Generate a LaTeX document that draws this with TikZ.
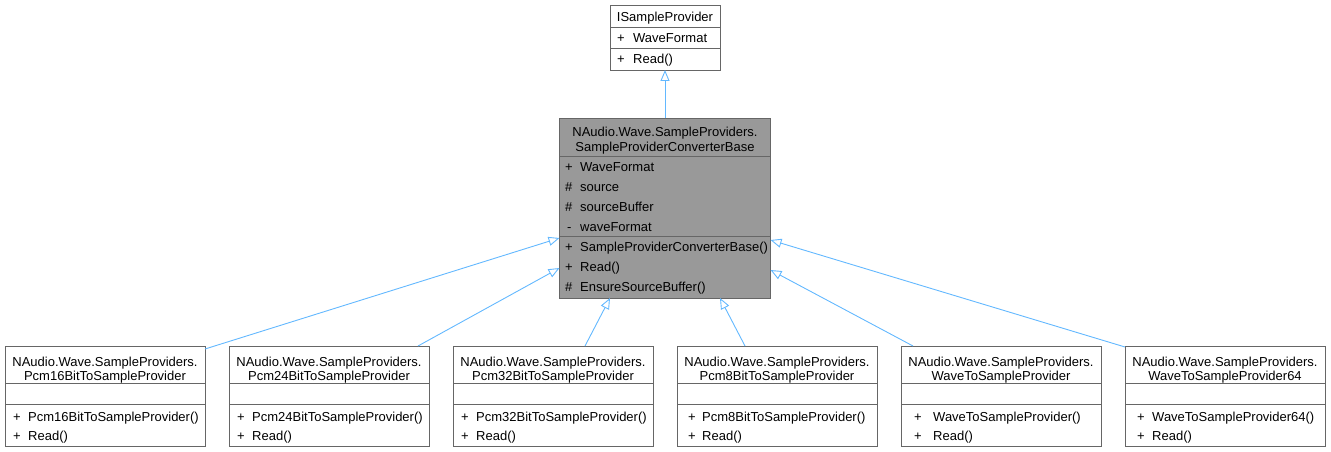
\documentclass[tikz,border=0pt]{standalone}
\usepackage{fontspec}
\setmainfont{Liberation Sans}
\usetikzlibrary{arrows.meta,calc}

\definecolor{edgeblue}{HTML}{63B8FF}
\definecolor{boxgray}{HTML}{666666}
\definecolor{basegray}{HTML}{999999}

\tikzset{
  classbox/.style={draw=boxgray, line width=0.9pt, fill=white, inner sep=0pt,
    outer sep=0pt, anchor=north west},
  basebox/.style={classbox, fill=basegray},
  divider/.style={draw=boxgray, line width=0.9pt},
  txt/.style={anchor=base west, inner sep=0pt, font=\fontsize{13}{15}\selectfont},
  ctxt/.style={anchor=base, inner sep=0pt, font=\fontsize{13}{15}\selectfont},
  inherit/.style={draw=edgeblue, line width=0.9pt,
    -{Triangle[open, length=11pt, width=9pt]}},
}

% one member row: name, symbol x, text x, baseline, symbol, text
\newcommand{\umlrow}[6]{%
  \node[txt] (#1v) at (#2,#4) {#5};
  \node[txt] (#1) at (#3,#4) {#6};}

% a derived class box: name, left x, short class name, symbol x, text x, ctor text x offset
\newcommand{\derived}[5]{%
  \node[classbox, minimum width=200pt, minimum height=100pt] (#1) at (#2,346) {};
  \node[ctxt] (#1ns) at ($(#1.north)+(0,20)$) {NAudio.Wave.SampleProviders.};
  \node[ctxt] (#1cl) at ($(#1.north)+(0,34)$) {#3};
  \draw[divider] ($(#1.north west)+(0,37)$) -- ($(#1.north east)+(0,37)$);
  \draw[divider] ($(#1.north west)+(0,58)$) -- ($(#1.north east)+(0,58)$);
  \umlrow{#1ctor}{#4}{#5}{421}{+}{#3()}
  \umlrow{#1read}{#4}{#5}{440}{+}{Read()}}

\begin{document}
\begin{tikzpicture}[x=1pt, y=-1pt]
\useasboundingbox (0,0) rectangle (1331,452);

% interface
\node[classbox, minimum width=110pt, minimum height=65pt] (iface) at (610,5) {};
\node[ctxt] (ifacet) at (665,21.5) {ISampleProvider};
\draw[divider] ($(iface.north west)+(0,22.5)$) -- ($(iface.north east)+(0,22.5)$);
\draw[divider] ($(iface.north west)+(0,43.5)$) -- ($(iface.north east)+(0,43.5)$);
\umlrow{ifwf}{617}{633}{42.5}{+}{WaveFormat}
\umlrow{ifrd}{617}{633}{63.5}{+}{Read()}

% abstract converter base
\node[basebox, minimum width=211pt, minimum height=180pt] (base) at (559.5,118) {};
\node[ctxt] (basens) at (665,136) {NAudio.Wave.SampleProviders.};
\node[ctxt] (basecl) at (665,151) {SampleProviderConverterBase};
\draw[divider] ($(base.north west)+(0,38)$) -- ($(base.north east)+(0,38)$);
\draw[divider] ($(base.north west)+(0,118)$) -- ($(base.north east)+(0,118)$);
\umlrow{bwf}{565}{580}{171.5}{+}{WaveFormat}
\umlrow{bsrc}{565}{580}{191.5}{\#}{source}
\umlrow{bbuf}{565}{580}{211.5}{\#}{sourceBuffer}
\umlrow{bwfp}{567}{580}{231.5}{-}{waveFormat}
\umlrow{bctor}{565}{580}{251.5}{+}{SampleProviderConverterBase()}
\umlrow{brd}{565}{580}{271.5}{+}{Read()}
\umlrow{bens}{565}{580}{291.5}{\#}{EnsureSourceBuffer()}

% concrete converters
\derived{pcmA}{5}{Pcm16BitToSampleProvider}{13}{28}
\derived{pcmB}{229}{Pcm24BitToSampleProvider}{237}{252}
\derived{pcmC}{453}{Pcm32BitToSampleProvider}{461}{476}
\derived{pcmD}{677}{Pcm8BitToSampleProvider}{688}{702}
\derived{wave}{901}{WaveToSampleProvider}{914}{933}
\derived{waveL}{1125}{WaveToSampleProvider64}{1137}{1152}

% inheritance
\draw[inherit] (base.north) -- (iface.south);
\draw[inherit] ($(pcmA.north east)+(0,3)$) -- ($(base.west)+(0,30)$);
\draw[inherit] ($(pcmB.north)+(89,0)$) -- ($(base.west)+(0,60)$);
\draw[inherit] ($(pcmC.north)+(32,0)$) -- ($(base.south)+(-55,0)$);
\draw[inherit] ($(pcmD.north)+(-32,0)$) -- ($(base.south)+(55,0)$);
\draw[inherit] ($(wave.north)+(-88,0)$) -- ($(base.east)+(0,62)$);
\draw[inherit] ($(waveL.north west)+(0,1)$) -- ($(base.east)+(0,32)$);
\end{tikzpicture}
\end{document}
